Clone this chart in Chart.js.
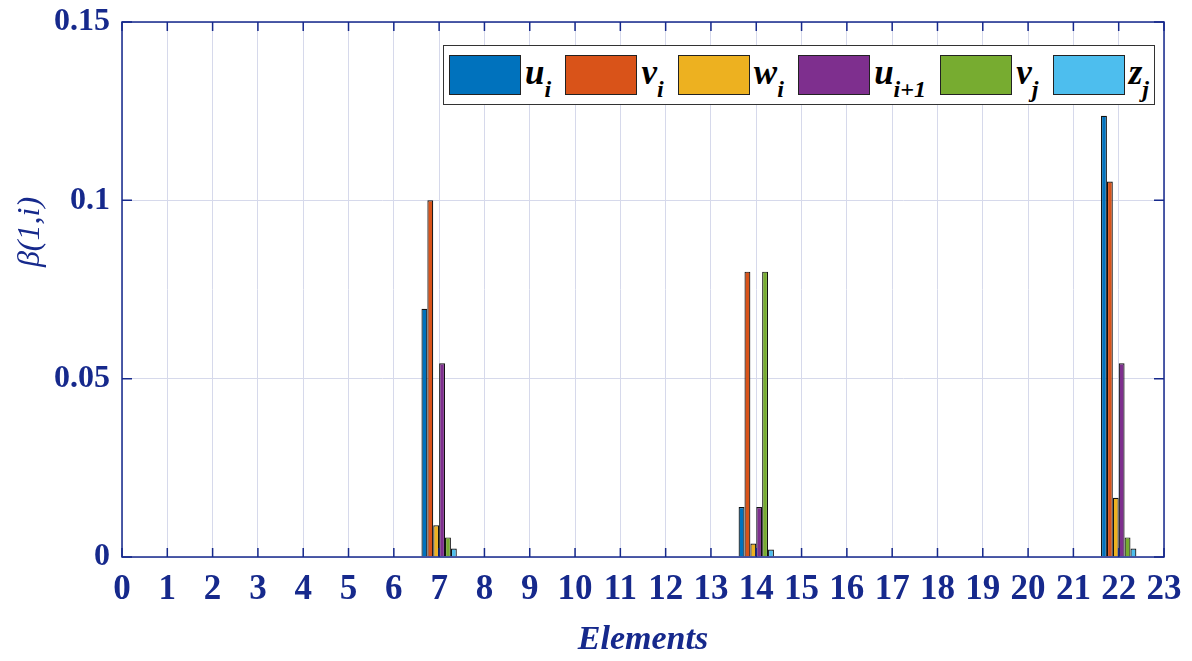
<!DOCTYPE html>
<html>
<head>
<meta charset="utf-8">
<script src="https://cdn.jsdelivr.net/npm/chart.js@4/dist/chart.umd.min.js"></script>
<style>
  body { margin:0; background:#fff; }
  #wrap { position:relative; width:1192px; height:661px; }
  #legend {
    position:absolute; left:443px; top:45px; width:700px; height:58px;
    border:1.5px solid #333; background:#fff;
    display:flex; align-items:center; justify-content:space-between;
    padding:0 5px 0 5px; box-sizing:content-box;
    font-family:"Liberation Serif", "DejaVu Serif", serif;
  }
  #legend .item { display:flex; align-items:center; }
  #legend .sw { width:70px; height:38px; border:1.5px solid #222; }
  #legend .lab { margin-left:4px; font-style:italic; font-weight:bold; font-size:35px; color:#000; line-height:1; position:relative; top:3px; }
  #legend .lab sub { font-size:24px; vertical-align:-13px; }
</style>
</head>
<body>
<div id="wrap">
  <canvas id="c" width="1192" height="661"></canvas>
  <div id="legend"></div>
</div>
<script>
// data
const elements = [1,2,3,4,5,6,7,8,9,10,11,12,13,14,15,16,17,18,19,20,21,22];
const uI  = [0,0,0,0,0,0,0.0696,0,0,0,0,0,0,0.014, 0,0,0,0,0,0,0,0.1237];
const vI  = [0,0,0,0,0,0,0.1,   0,0,0,0,0,0,0.080, 0,0,0,0,0,0,0,0.1053];
const wI  = [0,0,0,0,0,0,0.0089,0,0,0,0,0,0,0.0038,0,0,0,0,0,0,0,0.0166];
const uI1 = [0,0,0,0,0,0,0.0543,0,0,0,0,0,0,0.014, 0,0,0,0,0,0,0,0.0543];
const vJ  = [0,0,0,0,0,0,0.0055,0,0,0,0,0,0,0.080, 0,0,0,0,0,0,0,0.0055];
const zJ  = [0,0,0,0,0,0,0.0024,0,0,0,0,0,0,0.0021,0,0,0,0,0,0,0,0.0024];
const legendMain = ['u','v','w','u','v','z'];
const legendSub  = ['i','i','i','i+1','j','j'];
const colors = ['#0072BD','#D95319','#EDB120','#7E2F8E','#77AC30','#4DBEEE'];
const yTicks = [0, 0.05, 0.1, 0.15];
const yTitle = 'β(1,i)';

const navy = '#16298c';
const serif = '"Liberation Serif", "DejaVu Serif", serif';
const series = [uI, vI, wI, uI1, vJ, zJ];

// frame + inward tick marks, matlab style; y label sits a bit above centre like the original
const framePlugin = {
  id: 'frame',
  afterDraw(chart) {
    const { ctx, chartArea: a, scales: { x, y } } = chart;
    ctx.save();
    ctx.strokeStyle = navy;
    ctx.lineWidth = 1.5;
    ctx.strokeRect(a.left, a.top, a.right - a.left, a.bottom - a.top);
    ctx.beginPath();
    for (let v = 0; v <= 23; v++) {
      const px = x.getPixelForValue(v);
      ctx.moveTo(px, a.bottom); ctx.lineTo(px, a.bottom - 9);
      ctx.moveTo(px, a.top);    ctx.lineTo(px, a.top + 9);
    }
    yTicks.forEach(v => {
      const py = y.getPixelForValue(v);
      ctx.moveTo(a.left, py);  ctx.lineTo(a.left + 10, py);
      ctx.moveTo(a.right, py); ctx.lineTo(a.right - 10, py);
    });
    ctx.stroke();

    ctx.translate(31, 232);
    ctx.rotate(-Math.PI / 2);
    ctx.fillStyle = navy;
    ctx.font = 'italic 32px ' + serif;
    ctx.textAlign = 'center';
    ctx.textBaseline = 'middle';
    ctx.fillText(yTitle, 0, 0);
    ctx.restore();
  }
};

new Chart(document.getElementById('c'), {
  type: 'bar',
  data: {
    datasets: series.map((s, k) => ({
      label: legendMain[k] + '_' + legendSub[k],
      data: elements.map((e, i) => ({ x: e, y: s[i] })),
      backgroundColor: colors[k],
      borderColor: '#111',
      borderWidth: 1.2,
      categoryPercentage: 0.78,
      barPercentage: 1.0
    }))
  },
  options: {
    responsive: false,
    animation: false,
    layout: { padding: { top: 22, right: 28, left: 0, bottom: 0 } },
    plugins: { legend: { display: false }, tooltip: { enabled: false } },
    scales: {
      x: {
        type: 'linear', min: 0, max: 23, offset: false,
        afterFit: s => { s.height = 104; s.paddingLeft = 0; s.paddingRight = 0; },
        ticks: { stepSize: 1, color: navy, padding: 12, maxRotation: 0, autoSkip: false,
                 font: { family: serif, size: 35, weight: 'bold' } },
        grid: { color: '#d6d9eb', lineWidth: 1, drawTicks: false, offset: false },
        border: { display: false },
        title: { display: true, text: 'Elements', color: navy, padding: { top: 0, bottom: 0 },
                 font: { family: serif, size: 34, weight: 'bold', style: 'italic' } }
      },
      y: {
        min: 0, max: 0.15,
        afterFit: s => { s.width = 122; s.paddingTop = 0; s.paddingBottom = 0; },
        afterBuildTicks: s => { s.ticks = yTicks.map(v => ({ value: v })); },
        ticks: { color: navy, padding: 12, callback: v => String(+v.toFixed(2)),
                 font: { family: serif, size: 32, weight: 'bold' } },
        grid: { color: '#d6d9eb', lineWidth: 1, drawTicks: false },
        border: { display: false },
        title: { display: false }
      }
    }
  },
  plugins: [framePlugin]
});

// legend with subscripts
const lg = document.getElementById('legend');
legendMain.forEach((m, k) => {
  const it = document.createElement('div');
  it.className = 'item';
  it.innerHTML = '<div class="sw" style="background:' + colors[k] + '"></div>' +
                 '<span class="lab">' + m + '<sub>' + legendSub[k] + '</sub></span>';
  lg.appendChild(it);
});
</script>
</body>
</html>
